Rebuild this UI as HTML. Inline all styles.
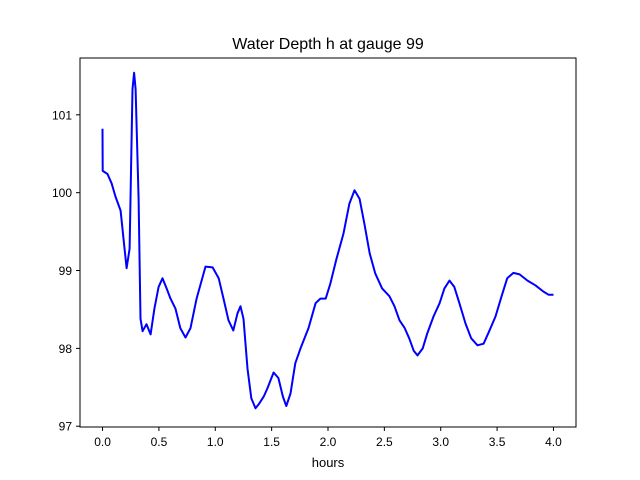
<!DOCTYPE html>
<html><head><meta charset="utf-8">
<style>
html,body{margin:0;padding:0;background:#fff;}
svg{display:block;font-family:"Liberation Sans","DejaVu Sans",sans-serif;}
</style></head>
<body>
<svg id="chart" width="640" height="480" viewBox="0 0 640 480">
<rect width="640" height="480" fill="#fff"/>
<text x="328" y="49" text-anchor="middle" font-size="16">Water Depth h at gauge 99</text>
<g id="ticks"></g>
<path id="line" fill="none" stroke="#0000ff" stroke-width="2" stroke-linejoin="round"/>
<rect x="80" y="58" width="496" height="369" fill="none" stroke="#000" stroke-width="1"/>
<text x="328" y="467" text-anchor="middle" font-size="13">hours</text>
</svg>
<script>
const hours=[0,0.001,0.044,0.08,0.115,0.16,0.186,0.213,0.24,0.266,0.28,0.293,0.32,0.337,0.355,0.39,0.426,0.46,0.497,0.532,0.568,0.603,0.647,0.69,0.736,0.78,0.834,0.913,0.976,1.03,1.073,1.117,1.16,1.197,1.224,1.25,1.286,1.32,1.357,1.39,1.43,1.463,1.517,1.56,1.6,1.63,1.667,1.71,1.756,1.827,1.89,1.933,1.98,2.02,2.075,2.137,2.19,2.235,2.28,2.323,2.37,2.42,2.48,2.545,2.59,2.634,2.68,2.72,2.76,2.794,2.84,2.88,2.936,2.99,3.033,3.078,3.12,3.166,3.22,3.27,3.326,3.38,3.43,3.486,3.54,3.59,3.645,3.7,3.77,3.84,3.91,3.956,4.0];
const depth=[100.82,100.28,100.24,100.12,99.95,99.77,99.41,99.03,99.28,101.33,101.54,101.33,99.92,98.38,98.22,98.31,98.18,98.51,98.79,98.9,98.77,98.64,98.51,98.26,98.14,98.26,98.64,99.05,99.04,98.9,98.64,98.36,98.23,98.45,98.54,98.38,97.74,97.36,97.23,97.29,97.38,97.49,97.69,97.62,97.38,97.26,97.42,97.81,98.0,98.26,98.58,98.64,98.64,98.83,99.15,99.47,99.86,100.03,99.92,99.6,99.22,98.96,98.77,98.67,98.54,98.36,98.26,98.13,97.97,97.91,98.0,98.19,98.41,98.58,98.77,98.87,98.79,98.58,98.32,98.13,98.04,98.06,98.22,98.41,98.67,98.9,98.97,98.95,98.87,98.81,98.73,98.69,98.69];
const xTicks=[0,0.5,1,1.5,2,2.5,3,3.5,4];
const xTickLabels=["0.0","0.5","1.0","1.5","2.0","2.5","3.0","3.5","4.0"];
const yTicks=[97,98,99,100,101];
const yTickLabels=["97","98","99","100","101"];
const X0=80,X1=576,Y0=427,Y1=58,xmin=-0.2,xmax=4.2,ymin=96.99,ymax=101.73;
const sx=v=>X0+(v-xmin)/(xmax-xmin)*(X1-X0);
const sy=v=>Y0-(v-ymin)/(ymax-ymin)*(Y0-Y1);
const NS="http://www.w3.org/2000/svg";
const g=document.getElementById('ticks');
function mk(tag,attrs){const e=document.createElementNS(NS,tag);for(const k in attrs)e.setAttribute(k,attrs[k]);g.appendChild(e);return e;}
xTicks.forEach((t,i)=>{
  const x=sx(t);
  const l=mk('line',{x1:x,x2:x,y1:Y0,y2:Y0+4,stroke:'#000'});
  
  
  const tx=mk('text',{x:x,y:Y0+19,'text-anchor':'middle','font-size':12});
  tx.textContent=xTickLabels[i];
  
  
});
yTicks.forEach((t,i)=>{
  const y=sy(t);
  const l=mk('line',{x1:X0-4,x2:X0,y1:y,y2:y,stroke:'#000'});
  
  
  const tx=mk('text',{x:X0-8,y:y+4.5,'text-anchor':'end','font-size':12});
  tx.textContent=yTickLabels[i];
  
  
});
document.getElementById('line').setAttribute('d',hours.map((h,i)=>(i?'L':'M')+sx(h).toFixed(1)+','+sy(depth[i]).toFixed(1)).join(''));
</script>
</body></html>
